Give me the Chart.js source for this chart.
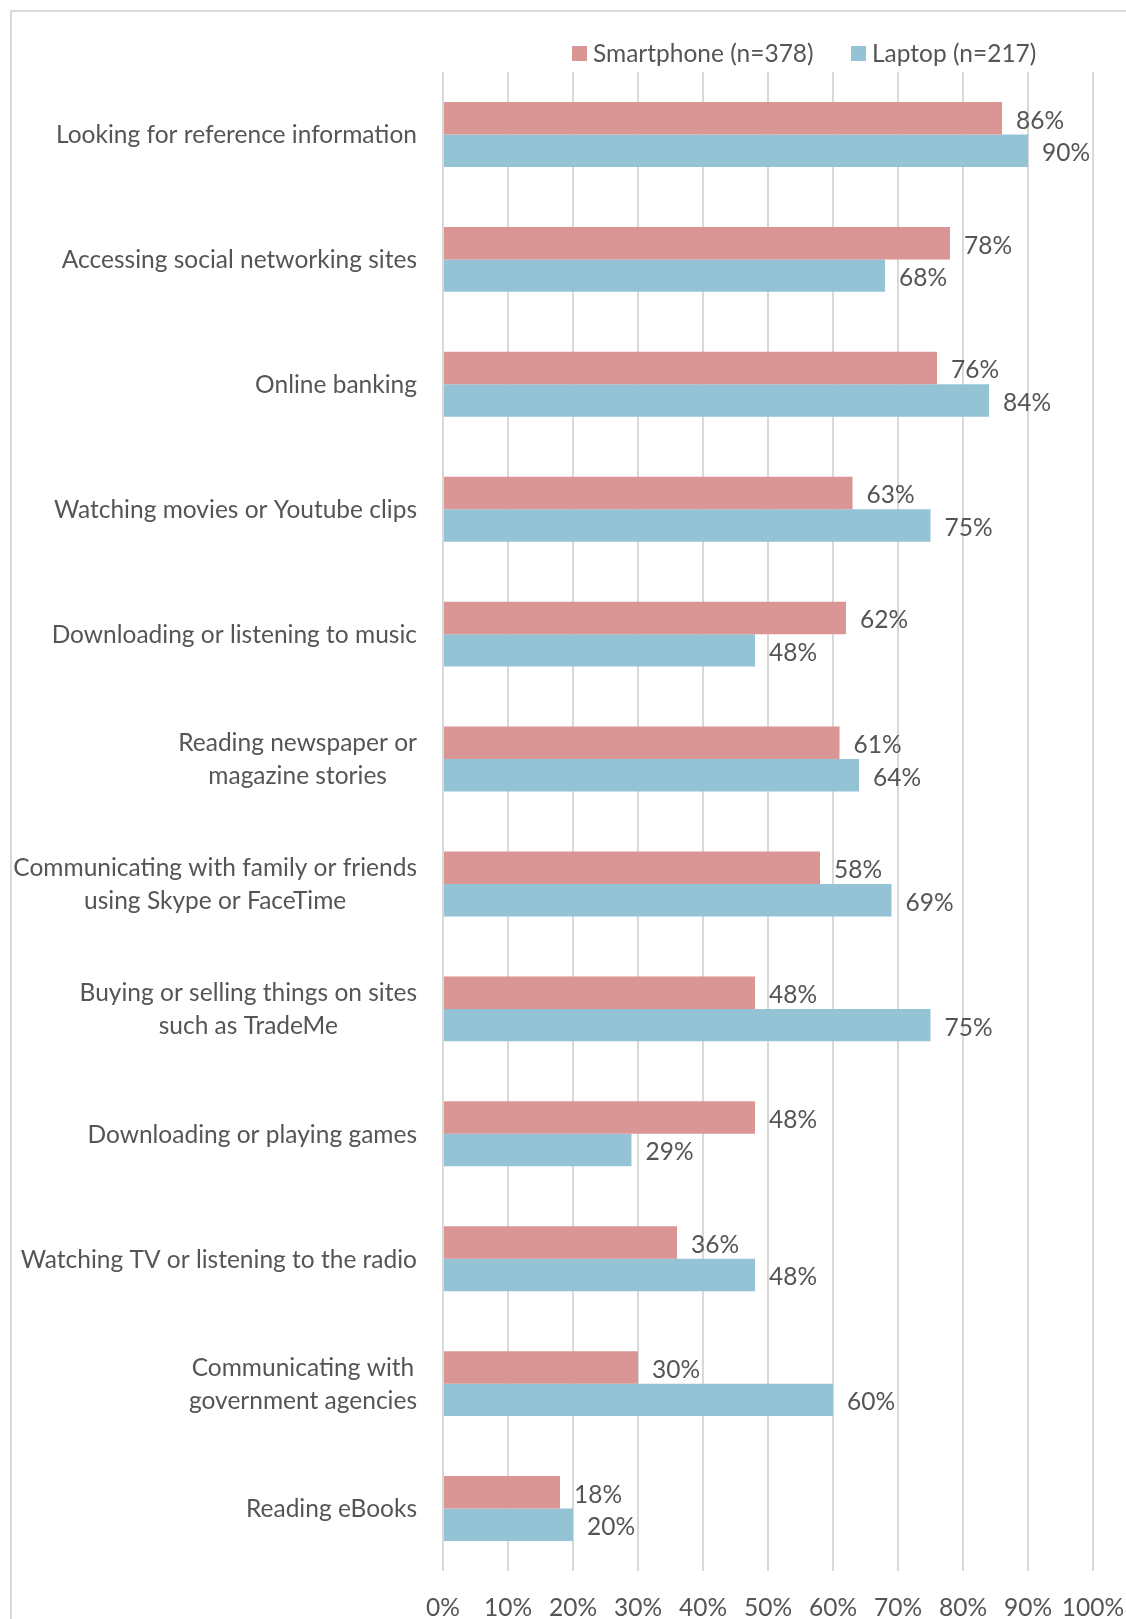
<!DOCTYPE html>
<html>
<head>
<meta charset="utf-8">
<script src="https://cdn.jsdelivr.net/npm/chart.js@4"></script>
<style>
html,body{margin:0;padding:0;background:#fff;}
#wrap{position:relative;width:1126px;height:1619px;}
</style>
</head>
<body>
<div id="wrap"><canvas id="c" width="1126" height="1619"></canvas></div>
<script>
const categories = [
  ["Looking for reference information"],
  ["Accessing social networking sites"],
  ["Online banking"],
  ["Watching movies or Youtube clips"],
  ["Downloading or listening to music"],
  ["Reading newspaper or", "magazine stories"],
  ["Communicating with family or friends", "using Skype or FaceTime"],
  ["Buying or selling things on sites", "such as TradeMe"],
  ["Downloading or playing games"],
  ["Watching TV or listening to the radio"],
  ["Communicating with", "government agencies"],
  ["Reading eBooks"]
];
const seriesNames = ["Smartphone (n=378)", "Laptop (n=217)"];
const smartphone = [86, 78, 76, 63, 62, 61, 58, 48, 48, 36, 30, 18];
const laptop = [90, 68, 84, 75, 48, 64, 69, 75, 29, 48, 60, 20];
const xTicks = [0, 10, 20, 30, 40, 50, 60, 70, 80, 90, 100];

const FONT = "Lato";
const FS = 24.5;
const TEXT = "#555555";
const PINK = "#d99694";
const BLUE = "#93c3d5";

const decor = {
  id: "decor",
  beforeDraw(chart) {
    const ctx = chart.ctx;
    ctx.save();
    ctx.fillStyle = "#fff";
    ctx.fillRect(0, 0, chart.width, chart.height);
    ctx.strokeStyle = "#d9d9d9";
    ctx.lineWidth = 2;
    ctx.strokeRect(11, 11, chart.width + 20, chart.height + 20);
    ctx.restore();
  },
  afterDraw(chart) {
    const ctx = chart.ctx;
    ctx.save();
    ctx.font = FS + "px " + FONT;
    ctx.fillStyle = TEXT;
    const yScale = chart.scales.y;
    categories.forEach((lines, i) => {
      const cy = yScale.getPixelForValue(i) + 1;
      const widths = lines.map(l => ctx.measureText(l).width);
      const maxW = Math.max(...widths);
      const right = chart.chartArea.left - 26;
      const cx = right - maxW / 2;
      const lh = 33;
      ctx.textAlign = "center";
      ctx.textBaseline = "middle";
      lines.forEach((l, k) => {
        const y = cy + (k - (lines.length - 1) / 2) * lh;
        ctx.fillText(l, cx, y);
      });
    });
    ctx.textAlign = "left";
    ctx.textBaseline = "middle";
    chart.data.datasets.forEach((ds, di) => {
      const meta = chart.getDatasetMeta(di);
      meta.data.forEach((bar, i) => {
        ctx.fillText(ds.data[i] + "%", bar.x + 14, bar.y + 2.5);
      });
    });
    const items = [
      { name: seriesNames[0], color: PINK, x: 572 },
      { name: seriesNames[1], color: BLUE, x: 851 }
    ];
    items.forEach(it => {
      ctx.fillStyle = it.color;
      ctx.fillRect(it.x, 46, 15, 15);
      ctx.fillStyle = TEXT;
      ctx.fillText(it.name, it.x + 21, 54);
    });
    ctx.restore();
  }
};

new Chart(document.getElementById("c"), {
  type: "bar",
  data: {
    labels: categories.map(c => c.join(" ")),
    datasets: [
      { label: seriesNames[0], data: smartphone, backgroundColor: PINK, borderWidth: 0 },
      { label: seriesNames[1], data: laptop, backgroundColor: BLUE, borderWidth: 0 }
    ]
  },
  options: {
    indexAxis: "y",
    responsive: false,
    animation: false,
    devicePixelRatio: 1,
    layout: { padding: { top: 72, right: 33, left: 0, bottom: 0 } },
    datasets: { bar: { categoryPercentage: 0.52, barPercentage: 1.0 } },
    plugins: { legend: { display: false }, tooltip: { enabled: false } },
    scales: {
      x: {
        min: 0, max: 100,
        afterBuildTicks(scale) { scale.ticks = xTicks.map(v => ({ value: v })); },
        afterFit(scale) { scale.height = 48; scale.paddingLeft = 0; scale.paddingRight = 0; },
        grid: { color: "#d9d9d9", lineWidth: 2, drawTicks: false },
        border: { display: false },
        ticks: {
          padding: 22,
          color: TEXT,
          font: { family: FONT, size: FS },
          callback: v => v + "%",
          maxRotation: 0, autoSkip: false
        }
      },
      y: {
        afterFit(scale) { scale.width = 443; scale.paddingTop = 0; scale.paddingBottom = 0; },
        grid: { display: false, drawTicks: false },
        border: { display: false },
        ticks: { display: false }
      }
    }
  },
  plugins: [decor]
});
</script>
</body>
</html>
